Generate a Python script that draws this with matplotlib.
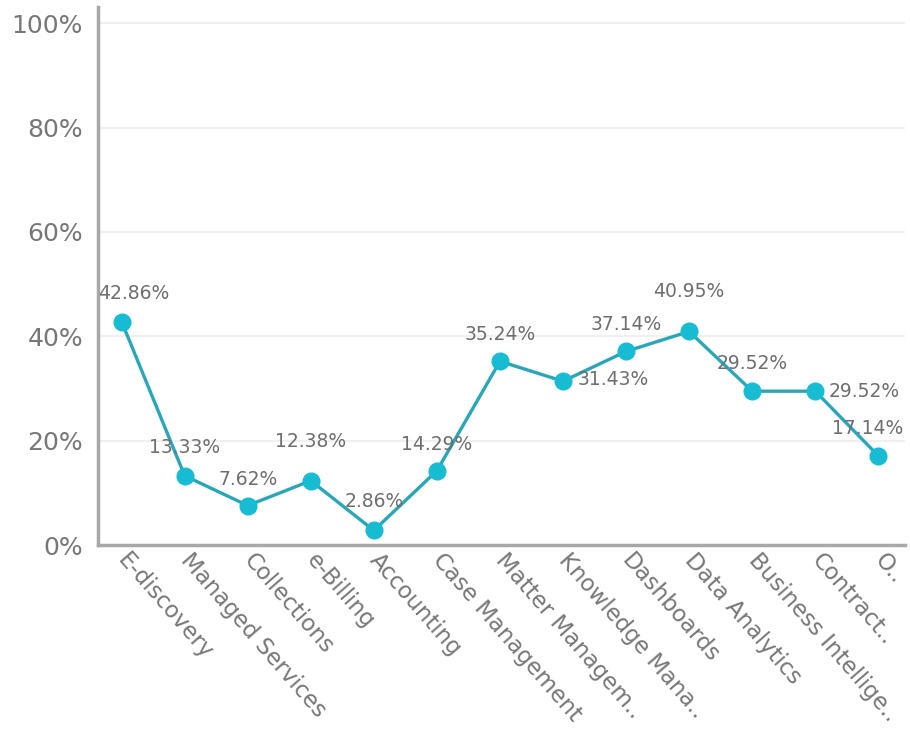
import matplotlib.pyplot as plt
import numpy as np

categories = ['E-discovery', 'Managed Services', 'Collections', 'e-Billing', 'Accounting',
              'Case Management', 'Matter Managem..', 'Knowledge Mana..', 'Dashboards',
              'Data Analytics', 'Business Intellige..', 'Contract..', 'O..']
values = [42.86, 13.33, 7.62, 12.38, 2.86, 14.29, 35.24, 31.43, 37.14, 40.95, 29.52, 29.52, 17.14]
# label offsets (points) relative to each marker
label_offsets = [(9, 20), (0, 20), (0, 19), (0, 28), (0, 21), (0, 19), (0, 19),
                 (36, 1), (0, 19.5), (0, 29), (0, 20), (35, 0), (-8, 20)]

fig = plt.figure(figsize=(9.1, 7.37), dpi=100)
ax = fig.add_axes([0.108, 0.26, 0.887, 0.73])

x = np.arange(len(categories))
ax.plot(x, values, color='#2aa6b8', linewidth=2.4, marker='o', markersize=12,
        markerfacecolor='#17bcd3', markeredgecolor='#17bcd3', zorder=3)

for xi, v, off in zip(x, values, label_offsets):
    ax.annotate('{:.2f}%'.format(v), (xi, v), xytext=off, textcoords='offset points',
                ha='center', va='center', fontsize=13.5, color='#6e6e6e', zorder=4)

ax.set_xlim(-0.37, 12.43)
ax.set_ylim(0, 103)
ax.set_yticks([0, 20, 40, 60, 80, 100])
ax.set_yticklabels(['0%', '20%', '40%', '60%', '80%', '100%'])
ax.set_xticks(x)
ax.set_xticklabels(categories, rotation=-49, rotation_mode='anchor', ha='left', va='center')

ax.grid(axis='y', color='#f0f0f0', linewidth=1.5)
ax.set_axisbelow(True)
for side in ['top', 'right']:
    ax.spines[side].set_visible(False)
for side in ['left', 'bottom']:
    ax.spines[side].set_color('#a8a8a8')
    ax.spines[side].set_linewidth(2.5)
ax.tick_params(axis='both', length=0, colors='#777777')
ax.tick_params(axis='y', labelsize=18, pad=11)
ax.tick_params(axis='x', labelsize=16.5, pad=8)

fig.savefig('out.png', dpi=100)
